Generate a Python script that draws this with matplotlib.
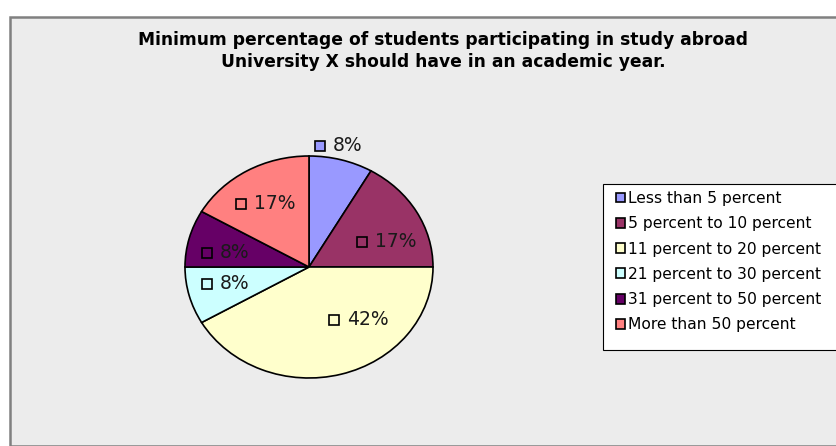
import numpy as np
import matplotlib
matplotlib.use("Agg")
import matplotlib.pyplot as plt
from matplotlib.patches import Rectangle, Patch
from matplotlib.transforms import offset_copy

# data
categories = ["Less than 5 percent", "5 percent to 10 percent", "11 percent to 20 percent",
              "21 percent to 30 percent", "31 percent to 50 percent", "More than 50 percent"]
counts = [1, 2, 5, 1, 1, 2]
colors = ["#9999FF", "#993366", "#FFFFCC", "#CCFFFF", "#660066", "#FF8080"]

title = ("Minimum percentage of students participating in study abroad\n"
         "University X should have in an academic year.")

W, H = 836, 446
fig = plt.figure(figsize=(W / 100, H / 100), dpi=100, facecolor="white")

# gray chart area, kept behind everything
fig.patches.append(Rectangle((10 / W, 0), 1, 1 - 17 / H, transform=fig.transFigure,
                             facecolor="#ececec", edgecolor="#808080", lw=1.8,
                             zorder=-10))

fig.text(443 / W, 1 - 51 / H, title, ha="center", va="center", fontsize=12.3,
         fontweight="bold", linespacing=1.25)

# pie axes (slightly squashed, like the original)
ax = fig.add_axes([185 / W, 1 - 378 / H, 248 / W, 222 / H])
wedges, _ = ax.pie(counts, colors=colors, startangle=90, counterclock=False,
                   radius=1, wedgeprops=dict(edgecolor="black", linewidth=1.2))
ax.set_aspect("auto")
ax.set_xlim(-1, 1)
ax.set_ylim(-1, 1)
ax.set_facecolor("none")

# data labels: small key + percentage, placed roughly like Excel's best fit
total = sum(counts)
label_r = [1.107, 0.578, 0.567, 0.734, 0.729, 0.721]
label_dtheta = [5, -7, 18, -3, 5, 8]
for w, c, col, r, dt in zip(wedges, counts, colors, label_r, label_dtheta):
    mid = np.deg2rad((w.theta1 + w.theta2) / 2 + dt)
    lx, ly = r * np.cos(mid), r * np.sin(mid)
    pct = "%d%%" % round(100 * c / total)
    ax.text(lx, ly, pct, ha="left", va="center", fontsize=13.5, color="#1a1a1a",
            transform=ax.transData)
    ax.plot([lx], [ly], marker="s", ms=7.5, mfc=col, mec="black", mew=1.2,
            transform=offset_copy(ax.transData, fig=fig, x=-13, y=0, units="dots"),
            clip_on=False)

# legend box drawn separately so the padding can match
fig.patches.append(Rectangle((603 / W, 1 - 350 / H), 240 / W, 166 / H,
                             transform=fig.transFigure, facecolor="white",
                             edgecolor="black", lw=0.8, zorder=4))
handles = [Patch(facecolor=col, edgecolor="black", lw=1.2) for col in colors]
leg = fig.legend(handles, categories, loc="upper left",
                 bbox_to_anchor=(609 / W, 1 - 184 / H), borderaxespad=0,
                 fontsize=11.2, handlelength=0.6, handleheight=0.6, handletextpad=0.2,
                 labelspacing=0.66, borderpad=0.45, frameon=False)
leg.set_zorder(5)

fig.savefig("out.png", dpi=100, facecolor="white")
